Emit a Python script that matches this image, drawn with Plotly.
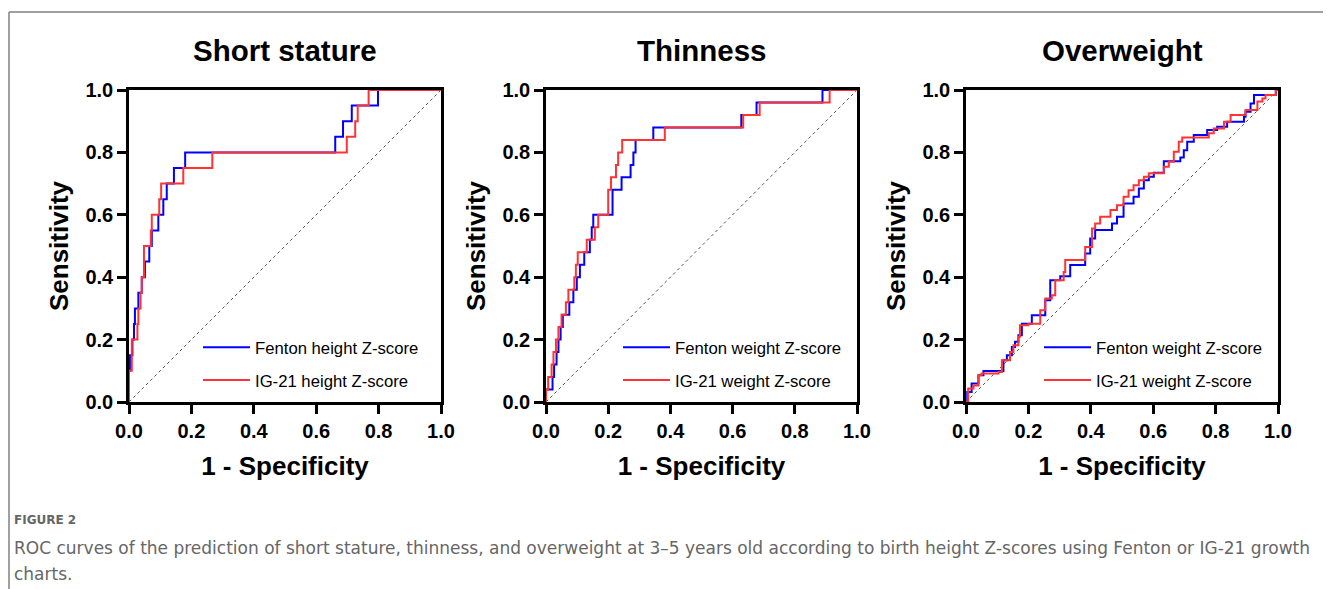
import plotly.graph_objects as go

# ---------------- data ----------------
panel_titles = ["Short stature", "Thinness", "Overweight"]
tick_vals = [0.0, 0.2, 0.4, 0.6, 0.8, 1.0]
tick_text = ["0.0", "0.2", "0.4", "0.6", "0.8", "1.0"]

names1 = ["Fenton height Z-score", "IG-21 height Z-score"]
names2 = ["Fenton weight Z-score", "IG-21 weight Z-score"]
names3 = ["Fenton weight Z-score", "IG-21 weight Z-score"]

# Short stature
ss_fenton_fpr = [0, 0, 0.003, 0.011, 0.016, 0.019, 0.030, 0.041, 0.051, 0.065, 0.073, 0.094, 0.110, 0.121, 0.144, 0.180, 0.661, 0.686, 0.714, 0.798, 1.0]
ss_fenton_tpr = [0, 0.10, 0.15, 0.20, 0.25, 0.30, 0.35, 0.40, 0.45, 0.50, 0.55, 0.60, 0.65, 0.70, 0.75, 0.80, 0.85, 0.90, 0.95, 1.0, 1.0]
ss_ig_fpr = [0, 0, 0.009, 0.027, 0.030, 0.037, 0.041, 0.048, 0.070, 0.073, 0.097, 0.103, 0.174, 0.267, 0.698, 0.725, 0.733, 0.768, 1.0]
ss_ig_tpr = [0, 0.10, 0.20, 0.25, 0.30, 0.35, 0.40, 0.50, 0.55, 0.60, 0.65, 0.70, 0.75, 0.80, 0.85, 0.90, 0.95, 1.0, 1.0]

# Thinness
th_fenton_fpr = [0, 0, 0.021, 0.026, 0.034, 0.040, 0.047, 0.054, 0.075, 0.088, 0.099, 0.109, 0.123, 0.141, 0.147, 0.152, 0.214, 0.243, 0.272, 0.281, 0.288, 0.345, 0.628, 0.677, 0.889, 1.0]
th_fenton_tpr = [0, 0.04, 0.08, 0.12, 0.16, 0.20, 0.24, 0.28, 0.32, 0.36, 0.40, 0.44, 0.48, 0.52, 0.56, 0.60, 0.68, 0.72, 0.76, 0.80, 0.84, 0.88, 0.92, 0.96, 1.0, 1.0]
th_ig_fpr = [0, 0, 0.007, 0.018, 0.024, 0.032, 0.040, 0.050, 0.064, 0.072, 0.091, 0.096, 0.102, 0.131, 0.157, 0.168, 0.200, 0.209, 0.225, 0.232, 0.245, 0.382, 0.634, 0.687, 0.912, 1.0]
th_ig_tpr = [0, 0.04, 0.08, 0.12, 0.16, 0.20, 0.24, 0.28, 0.32, 0.36, 0.40, 0.44, 0.48, 0.52, 0.56, 0.60, 0.68, 0.72, 0.76, 0.80, 0.84, 0.88, 0.92, 0.96, 1.0, 1.0]

# Overweight
ow_fenton_fpr = [0, 0.004, 0.018, 0.040, 0.056, 0.120, 0.131, 0.147, 0.157, 0.168, 0.179, 0.211, 0.254, 0.270, 0.302, 0.334, 0.382, 0.398, 0.414, 0.468, 0.484, 0.505, 0.537, 0.554, 0.570, 0.586, 0.602, 0.634, 0.687, 0.698, 0.709, 0.730, 0.773, 0.805, 0.837, 0.891, 0.896, 0.912, 0.923, 0.993, 1.0]
ow_fenton_tpr = [0, 0.032, 0.059, 0.086, 0.099, 0.134, 0.150, 0.176, 0.193, 0.214, 0.251, 0.278, 0.326, 0.390, 0.403, 0.439, 0.476, 0.524, 0.551, 0.572, 0.594, 0.636, 0.658, 0.684, 0.711, 0.722, 0.735, 0.772, 0.784, 0.807, 0.834, 0.856, 0.872, 0.882, 0.898, 0.914, 0.930, 0.957, 0.984, 1.0, 1.0]
ow_ig_fpr = [0, 0.007, 0.024, 0.040, 0.050, 0.104, 0.115, 0.141, 0.152, 0.168, 0.173, 0.200, 0.238, 0.254, 0.275, 0.286, 0.313, 0.318, 0.382, 0.404, 0.414, 0.430, 0.463, 0.484, 0.505, 0.521, 0.537, 0.554, 0.570, 0.586, 0.634, 0.650, 0.666, 0.682, 0.693, 0.778, 0.794, 0.827, 0.848, 0.896, 0.934, 0.950, 0.960, 0.993, 1.0]
ow_ig_tpr = [0, 0.043, 0.053, 0.086, 0.091, 0.096, 0.134, 0.160, 0.182, 0.209, 0.246, 0.251, 0.294, 0.332, 0.342, 0.390, 0.417, 0.455, 0.497, 0.556, 0.572, 0.594, 0.615, 0.631, 0.658, 0.679, 0.695, 0.711, 0.722, 0.733, 0.754, 0.770, 0.802, 0.834, 0.848, 0.861, 0.877, 0.898, 0.920, 0.936, 0.963, 0.973, 0.984, 1.0, 1.0]

ref_line = [0, 1]

caption_label = "FIGURE 2"
caption_line1 = "ROC curves of the prediction of short stature, thinness, and overweight at 3–5 years old according to birth height Z-scores using Fenton or IG-21 growth"
caption_line2 = "charts."

# ---------------- layout constants ----------------
# page body has an 8px margin: build the figure 8px smaller and place everything in window pixels
OFF = 8
W, H = 1331 - OFF, 589 - OFF
BLUE = "#0000ff"
RED = "#ff3333"
FONT = "Liberation Sans, Arial, sans-serif"
CAP_FONT = "DejaVu Sans, sans-serif"


def px(x):
    return (x - OFF) / W


def py(y):
    return (H - (y - OFF)) / H


x_px = [(129, 441), (546, 857), (966, 1278)]
y_px = (90, 402)
ydom = [py(y_px[1]), py(y_px[0])]

panels = [
    (ss_fenton_fpr, ss_fenton_tpr, ss_ig_fpr, ss_ig_tpr, names1),
    (th_fenton_fpr, th_fenton_tpr, th_ig_fpr, th_ig_tpr, names2),
    (ow_fenton_fpr, ow_fenton_tpr, ow_ig_fpr, ow_ig_tpr, names3),
]

fig = go.Figure()
annotations = []
legend_pos = [(198, 330), (618, 330), (1039, 330)]

for i, (bf, bt, rf, rt, names) in enumerate(panels):
    k = "" if i == 0 else str(i + 1)
    xa, ya = "x" + k, "y" + k
    leg = "legend" + k
    fig.add_trace(go.Scatter(x=ref_line, y=ref_line, mode="lines", xaxis=xa, yaxis=ya,
                             line=dict(color="#555555", width=1, dash="dot"),
                             showlegend=False, hoverinfo="skip", cliponaxis=False))
    fig.add_trace(go.Scatter(x=bf, y=bt, mode="lines", name=names[0], xaxis=xa, yaxis=ya,
                             line=dict(color=BLUE, width=2, shape="hv"), legend=leg,
                             legendgroup="a" + k, cliponaxis=False))
    fig.add_trace(go.Scatter(x=rf, y=rt, mode="lines", name=names[1], xaxis=xa, yaxis=ya,
                             line=dict(color=RED, width=2, shape="hv"), legend=leg,
                             legendgroup="b" + k, cliponaxis=False))

    axis_common = dict(range=[0, 1], tickvals=tick_vals, ticktext=tick_text, automargin=False,
                       showgrid=False, zeroline=False, showline=True, linecolor="black",
                       linewidth=2.5, mirror=True, ticks="outside", ticklen=9, tickwidth=2.5,
                       tickcolor="black",
                       tickfont=dict(family=FONT, size=20, color="black", weight="bold"))
    xd = [px(x_px[i][0]), px(x_px[i][1])]
    fig.layout["xaxis" + k] = dict(domain=xd, anchor=ya, **axis_common,
                                   title=dict(text="1 - Specificity", standoff=17,
                                              font=dict(family=FONT, size=26, color="black", weight="bold")))
    fig.layout["yaxis" + k] = dict(domain=ydom, anchor=xa, **axis_common,
                                   title=dict(text="Sensitivity", standoff=10,
                                              font=dict(family=FONT, size=26, color="black", weight="bold")))
    lx, ly = legend_pos[i]
    fig.layout[leg] = dict(x=px(lx), y=py(ly), xanchor="left", yanchor="top", itemwidth=47,
                           bgcolor="rgba(0,0,0,0)", traceorder="grouped", tracegroupgap=8,
                           font=dict(family=FONT, size=16.7, color="black"))
    annotations.append(dict(text=panel_titles[i], x=(xd[0] + xd[1]) / 2, y=py(50),
                            xref="paper", yref="paper", xanchor="center", yanchor="middle",
                            showarrow=False,
                            font=dict(family=FONT, size=29.5, color="black", weight="bold")))

annotations.append(dict(text=caption_label, x=px(12), y=py(520), xref="paper", yref="paper",
                        xanchor="left", yanchor="middle", showarrow=False,
                        font=dict(family=CAP_FONT, size=12, color="#666666", weight=600)))
annotations.append(dict(text=caption_line1, x=px(12), y=py(548), xref="paper", yref="paper",
                        xanchor="left", yanchor="middle", showarrow=False,
                        font=dict(family=CAP_FONT, size=17, color="#666666")))
annotations.append(dict(text=caption_line2, x=px(12), y=py(574), xref="paper", yref="paper",
                        xanchor="left", yanchor="middle", showarrow=False,
                        font=dict(family=CAP_FONT, size=17, color="#666666")))

shapes = [
    dict(type="line", xref="paper", yref="paper", x0=px(9), x1=1.0, y0=py(12), y1=py(12),
         line=dict(color="#808080", width=1.5)),
    dict(type="line", xref="paper", yref="paper", x0=px(9), x1=px(9), y0=py(12), y1=0,
         line=dict(color="#808080", width=1.5)),
]

fig.update_layout(template="none", width=W, height=H, margin=dict(l=0, r=0, t=0, b=0, autoexpand=False),
                  paper_bgcolor="white", plot_bgcolor="white",
                  annotations=annotations, shapes=shapes, showlegend=True)

fig.write_html("out.html")
